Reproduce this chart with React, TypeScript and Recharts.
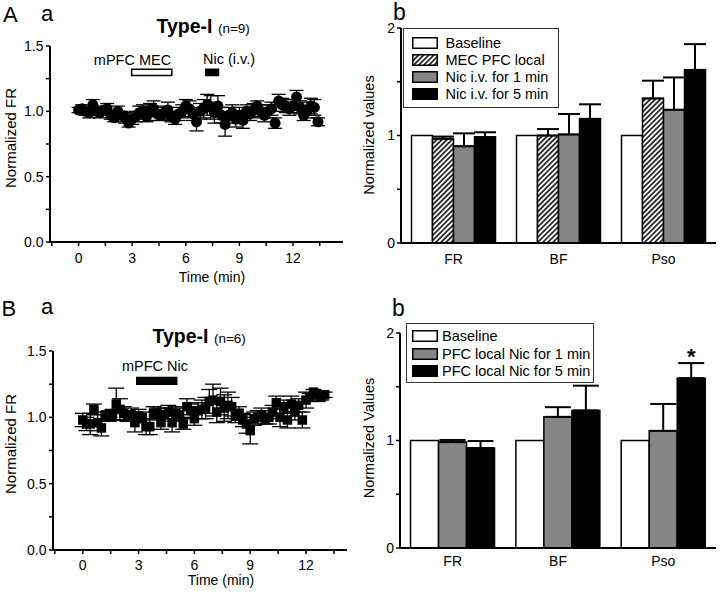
import React from 'react';
import {
  ScatterChart,
  Scatter,
  XAxis,
  YAxis,
  ErrorBar,
  ReferenceArea,
  BarChart,
  Bar,
  Legend,
  LabelList,
} from 'recharts';

const FONT = '"Liberation Sans", Arial, Helvetica, sans-serif';

// ---------- Panel A a : Type-I (n=9) ----------
const timeA = [0, 0.2, 0.4, 0.6, 0.8, 1.0, 1.2, 1.4, 1.6, 1.8, 2.0, 2.2, 2.4, 2.6, 2.8, 3.0, 3.2, 3.4, 3.6, 3.8, 4.0, 4.2, 4.4, 4.6, 4.8, 5.0, 5.2, 5.4, 5.6, 5.8, 6.0, 6.2, 6.4, 6.6, 6.8, 7.0, 7.2, 7.4, 7.6, 7.8, 8.0, 8.2, 8.4, 8.6, 8.8, 9.0, 9.2, 9.4, 9.6, 9.8, 10.0, 10.2, 10.4, 10.6, 10.8, 11.0, 11.2, 11.4, 11.6, 11.8, 12.0, 12.2, 12.4, 12.6, 12.8, 13.0, 13.2, 13.4];
const frA = [
  1.01, 1.02, 1.0, 0.99, 1.05, 1.0, 0.99, 1.01, 1.02, 0.97,
  0.95, 1.0, 0.97, 0.95, 0.91, 0.94, 0.96, 0.99, 1.0, 0.96,
  1.01, 1.02, 0.98, 0.97, 0.99, 1.01, 0.96, 0.94, 0.98, 1.0,
  1.04, 1.02, 0.98, 0.92, 1.0, 1.02, 1.05, 1.03, 0.99, 1.04,
  0.97, 0.9, 0.97, 0.99, 0.94, 0.97, 0.93, 1.0, 0.98, 1.01,
  1.04, 1.0, 0.97, 1.0, 1.02, 0.91, 1.08, 1.05, 1.04, 1.02,
  1.04, 1.11, 1.03, 0.97, 1.01, 1.04, 1.03, 0.92,
];
const errA = [
  0.02, 0.03, 0.03, 0.04, 0.04, 0.03, 0.04, 0.03, 0.04, 0.03,
  0.03, 0.04, 0.03, 0.04, 0.03, 0.04, 0.04, 0.05, 0.05, 0.04,
  0.05, 0.06, 0.05, 0.04, 0.05, 0.06, 0.04, 0.04, 0.05, 0.05,
  0.05, 0.06, 0.05, 0.07, 0.06, 0.07, 0.08, 0.09, 0.08, 0.08,
  0.06, 0.09, 0.06, 0.06, 0.06, 0.06, 0.06, 0.05, 0.05, 0.05,
  0.04, 0.05, 0.05, 0.05, 0.05, 0.04, 0.05, 0.05, 0.05, 0.05,
  0.05, 0.05, 0.05, 0.04, 0.06, 0.06, 0.06, 0.03,
];
const treatStartA = [2.97, 7.12];
const treatEndA = [5.22, 7.83];
const treatBandA = [1.275, 1.322];

// ---------- Panel B a : Type-I (n=6) ----------
const timeB = [0, 0.2, 0.4, 0.6, 0.8, 1.0, 1.2, 1.4, 1.6, 1.8, 2.0, 2.2, 2.4, 2.6, 2.8, 3.0, 3.2, 3.4, 3.6, 3.8, 4.0, 4.2, 4.4, 4.6, 4.8, 5.0, 5.2, 5.4, 5.6, 5.8, 6.0, 6.2, 6.4, 6.6, 6.8, 7.0, 7.2, 7.4, 7.6, 7.8, 8.0, 8.2, 8.4, 8.6, 8.8, 9.0, 9.2, 9.4, 9.6, 9.8, 10.0, 10.2, 10.4, 10.6, 10.8, 11.0, 11.2, 11.4, 11.6, 11.8, 12.0, 12.2, 12.4, 12.6, 12.8, 13.0];
const frB = [
  0.98, 0.95, 0.95, 1.06, 0.96, 0.92, 1.01, 1.01, 1.02, 1.1,
  1.06, 1.03, 1.01, 1.02, 0.96, 1.01, 1.0, 0.93, 0.93, 1.03,
  1.03, 0.96, 1.02, 1.04, 0.96, 1.03, 1.02, 0.95, 1.08, 1.05,
  0.99, 1.05, 1.06, 1.07, 1.12, 1.13, 1.04, 1.12, 1.07, 1.09,
  1.08, 1.01, 1.03, 0.98, 0.95, 0.9, 0.99, 1.0, 1.02, 0.99,
  1.0, 1.04, 1.11, 1.0, 1.08, 0.98, 1.1, 1.04, 1.09, 0.98,
  1.13, 1.15, 1.19, 1.17, 1.15, 1.17,
];
const errB = [
  0.05, 0.05, 0.08, 0.04, 0.06, 0.06, 0.03, 0.04, 0.04, 0.12,
  0.08, 0.05, 0.04, 0.05, 0.07, 0.05, 0.04, 0.06, 0.06, 0.05,
  0.04, 0.05, 0.05, 0.05, 0.07, 0.05, 0.05, 0.04, 0.06, 0.05,
  0.05, 0.06, 0.07, 0.08, 0.09, 0.12, 0.08, 0.1, 0.1, 0.1,
  0.07, 0.05, 0.05, 0.05, 0.07, 0.1, 0.05, 0.05, 0.05, 0.04,
  0.05, 0.05, 0.05, 0.07, 0.05, 0.06, 0.06, 0.06, 0.05, 0.06,
  0.06, 0.03, 0.02, 0.02, 0.02, 0.02,
];
const treatStartB = [2.9];
const treatEndB = [5.05];
const treatBandB = [1.25, 1.3];

// ---------- Axis ticks ----------
const timeTicks = [-1.5, 0, 1.5, 3, 4.5, 6, 7.5, 9, 10.5, 12, 13.5];
const frTicks = [0, 0.25, 0.5, 0.75, 1, 1.25, 1.5];
const valTicks = [0, 0.5, 1, 1.5, 2];
const sepTicks = [1, 2];

// ---------- Panel A b ----------
const catsA = ['FR', 'BF', 'Pso'];
const baselineA = [1, 1, 1];
const mecA = [0.97, 1.0, 1.345];
const mecErrA = [0.02, 0.06, 0.165];
const nic1A = [0.9, 1.01, 1.24];
const nic1ErrA = [0.12, 0.19, 0.3];
const nic5A = [0.985, 1.155, 1.61];
const nic5ErrA = [0.045, 0.135, 0.24];

// ---------- Panel B b ----------
const catsB = ['FR', 'BF', 'Pso'];
const baselineB = [1, 1, 1];
const loc1B = [0.985, 1.22, 1.09];
const loc1ErrB = [0.02, 0.09, 0.25];
const loc5B = [0.93, 1.28, 1.58];
const loc5ErrB = [0.065, 0.23, 0.14];
const sigB = ['', '', '*'];

const AXIS = { stroke: '#000', strokeWidth: 2 };
const TICK = { stroke: '#000', strokeWidth: 1.5 };
const TICKTEXT = { fill: '#000', fontSize: 14, fontFamily: FONT };

const fmtTime = (v: number) => (v % 3 === 0 ? String(v) : '');
const fmtFr = (v: number) => (Number.isInteger(v * 2) ? v.toFixed(1) : '');
const fmtVal = (v: number) => (Number.isInteger(v) ? String(v) : '');

const Txt = ({ x, base, size = 14.5, weight = 'normal', anchor = 'start', children }: any) => (
  <div
    style={{
      position: 'absolute',
      left: x,
      top: base - 0.8465 * size,
      fontSize: size,
      fontWeight: weight,
      lineHeight: 1,
      whiteSpace: 'nowrap',
      transform: anchor === 'middle' ? 'translateX(-50%)' : undefined,
      fontFamily: FONT,
    }}
  >
    {children}
  </div>
);

const VTxt = ({ x, y, size = 14.5, children }: any) => (
  <div
    style={{
      position: 'absolute',
      left: x,
      top: y,
      fontSize: size,
      lineHeight: 1,
      whiteSpace: 'nowrap',
      transform: 'translate(-50%, -50%) rotate(-90deg)',
      fontFamily: FONT,
    }}
  >
    {children}
  </div>
);

const circleShape = (p: any) => <circle cx={p.cx} cy={p.cy} r={5.5} fill="#000" />;
const squareShape = (p: any) => <rect x={p.cx - 4.75} y={p.cy - 4.75} width={9.5} height={9.5} fill="#000" />;

const makeLegend = (o: any) => (props: any) => {
  const payload = props.payload || [];
  return (
    <div
      style={{
        border: '1px solid #333',
        background: '#fff',
        padding: `${o.pt}px ${o.pr}px ${o.pb}px ${o.pl}px`,
        fontFamily: FONT,
        fontSize: 14.5,
        color: '#000',
        whiteSpace: 'nowrap',
      }}
    >
      {payload.map((p: any, i: number) => (
        <div key={i} style={{ display: 'flex', alignItems: 'center', height: o.row }}>
          <svg width={26} height={12} style={{ display: 'block' }}>
            <rect x={0.75} y={0.75} width={24.5} height={10.5} fill={p.color} stroke="#000" strokeWidth={1.5} />
          </svg>
          <span style={{ marginLeft: o.gap }}>{p.value}</span>
        </div>
      ))}
    </div>
  );
};

const legendA = makeLegend({ pt: 5.5, pb: 4.5, pl: 7.5, pr: 10, row: 17, gap: 8 });
const legendB = makeLegend({ pt: 4, pb: 2, pl: 5, pr: 3, row: 17.5, gap: 4 });

export default function App() {
  const dataA = timeA.map((t, i) => ({ t, v: frA[i], e: errA[i] }));
  const dataB = timeB.map((t, i) => ({ t, v: frB[i], e: errB[i] }));
  const treatA = treatStartA.map((s, i) => ({ s, e: treatEndA[i] }));
  const treatB = treatStartB.map((s, i) => ({ s, e: treatEndB[i] }));

  const barA = catsA.map((c, i) => ({
    cat: c,
    base: baselineA[i],
    mec: mecA[i],
    mecErr: [0, mecErrA[i]],
    nic1: nic1A[i],
    nic1Err: [0, nic1ErrA[i]],
    nic5: nic5A[i],
    nic5Err: [0, nic5ErrA[i]],
  }));
  const barB = catsB.map((c, i) => ({
    cat: c,
    base: baselineB[i],
    loc1: loc1B[i],
    loc1Err: [0, loc1ErrB[i]],
    loc5: loc5B[i],
    loc5Err: [0, loc5ErrB[i]],
    sig: sigB[i],
  }));

  return (
    <div
      style={{
        position: 'absolute',
        left: 0,
        top: 0,
        width: 720,
        height: 592,
        background: '#fff',
        color: '#000',
        overflow: 'hidden',
        fontFamily: FONT,
      }}
    >
      <svg width={0} height={0} style={{ position: 'absolute' }}>
        <defs>
          <pattern id="hatch" patternUnits="userSpaceOnUse" width={3.6} height={3.6} patternTransform="rotate(45)">
            <rect width={3.6} height={3.6} fill="#fff" />
            <line x1={1.8} y1={0} x2={1.8} y2={3.6} stroke="#000" strokeWidth={1.5} />
          </pattern>
        </defs>
      </svg>

      {/* Panel A a */}
      <div style={{ position: 'absolute', left: 0, top: 0 }}>
        <ScatterChart width={360} height={290} margin={{ top: 46, right: 17, bottom: 0, left: 0 }}>
          <XAxis
            type="number"
            dataKey="t"
            domain={[-1.6, 14.8]}
            ticks={timeTicks}
            tickFormatter={fmtTime}
            interval={0}
            allowDataOverflow
            height={48}
            axisLine={AXIS}
            tickLine={TICK}
            tickSize={4}
            tickMargin={7.5}
            tick={TICKTEXT}
          />
          <YAxis
            type="number"
            dataKey="v"
            domain={[0, 1.5]}
            ticks={frTicks}
            tickFormatter={fmtFr}
            interval={0}
            allowDataOverflow
            width={50}
            axisLine={AXIS}
            tickLine={TICK}
            tickSize={4}
            tickMargin={2.5}
            tick={TICKTEXT}
          />
          {treatA.map((d, i) => (
            <ReferenceArea
              key={i}
              x1={d.s}
              x2={d.e}
              y1={treatBandA[0]}
              y2={treatBandA[1]}
              fill={i === 0 ? '#fff' : '#000'}
              fillOpacity={1}
              stroke="#000"
              strokeWidth={1.5}
            />
          ))}
          <Scatter data={dataA} dataKey="v" shape={circleShape} isAnimationActive={false}>
            <ErrorBar dataKey="e" direction="y" width={7} stroke="#000" strokeWidth={1.3} />
          </Scatter>
        </ScatterChart>
      </div>

      {/* Panel B a */}
      <div style={{ position: 'absolute', left: 0, top: 290 }}>
        <ScatterChart width={360} height={302} margin={{ top: 61, right: 13, bottom: 0, left: 0 }}>
          <XAxis
            type="number"
            dataKey="t"
            domain={[-1.6, 14.2]}
            ticks={timeTicks}
            tickFormatter={fmtTime}
            interval={0}
            allowDataOverflow
            height={42}
            axisLine={AXIS}
            tickLine={TICK}
            tickSize={4}
            tickMargin={6.5}
            tick={TICKTEXT}
          />
          <YAxis
            type="number"
            dataKey="v"
            domain={[0, 1.5]}
            ticks={frTicks}
            tickFormatter={fmtFr}
            interval={0}
            allowDataOverflow
            width={53}
            axisLine={AXIS}
            tickLine={TICK}
            tickSize={4}
            tickMargin={2.5}
            tick={TICKTEXT}
          />
          {treatB.map((d, i) => (
            <ReferenceArea
              key={i}
              x1={d.s}
              x2={d.e}
              y1={treatBandB[0]}
              y2={treatBandB[1]}
              fill="#000"
              fillOpacity={1}
              stroke="#000"
              strokeWidth={1.5}
            />
          ))}
          <Scatter data={dataB} dataKey="v" shape={squareShape} isAnimationActive={false}>
            <ErrorBar dataKey="e" direction="y" width={8} stroke="#000" strokeWidth={1.3} />
          </Scatter>
        </ScatterChart>
      </div>

      {/* Panel A b */}
      <div style={{ position: 'absolute', left: 360, top: 0 }}>
        <BarChart
          width={360}
          height={290}
          data={barA}
          margin={{ top: 28, right: 4, bottom: 0, left: 0 }}
          barGap={0}
          barCategoryGap="10%"
        >
          <XAxis
            xAxisId="sep"
            type="number"
            domain={[0, 3]}
            ticks={sepTicks}
            tick={false}
            axisLine={false}
            tickLine={TICK}
            tickSize={5}
            height={0}
          />
          <XAxis
            dataKey="cat"
            tickLine={false}
            axisLine={AXIS}
            tick={TICKTEXT}
            tickSize={4}
            tickMargin={7}
            height={47}
            interval={0}
          />
          <YAxis
            domain={[0, 2]}
            ticks={valTicks}
            tickFormatter={fmtVal}
            interval={0}
            width={41}
            axisLine={AXIS}
            tickLine={TICK}
            tickSize={4}
            tickMargin={2}
            tick={TICKTEXT}
          />
          <Legend
            layout="vertical"
            align="center"
            verticalAlign="middle"
            wrapperStyle={{ left: 43, top: 28, width: 'auto', height: 'auto' }}
            content={legendA}
          />
          <Bar dataKey="base" name="Baseline" fill="#fff" stroke="#000" strokeWidth={1.5} isAnimationActive={false} />
          <Bar dataKey="mec" name="MEC PFC local" fill="url(#hatch)" stroke="#000" strokeWidth={1.5} isAnimationActive={false}>
            <ErrorBar dataKey="mecErr" direction="y" width={11} stroke="#000" strokeWidth={2} />
          </Bar>
          <Bar dataKey="nic1" name="Nic i.v. for 1 min" fill="#858585" stroke="#000" strokeWidth={1.5} isAnimationActive={false}>
            <ErrorBar dataKey="nic1Err" direction="y" width={11} stroke="#000" strokeWidth={2} />
          </Bar>
          <Bar dataKey="nic5" name="Nic i.v. for 5 min" fill="#000" stroke="#000" strokeWidth={1.5} isAnimationActive={false}>
            <ErrorBar dataKey="nic5Err" direction="y" width={11} stroke="#000" strokeWidth={2} />
          </Bar>
        </BarChart>
      </div>

      {/* Panel B b */}
      <div style={{ position: 'absolute', left: 360, top: 290 }}>
        <BarChart
          width={360}
          height={302}
          data={barB}
          margin={{ top: 43, right: 4, bottom: 0, left: 0 }}
          barGap={0}
          barCategoryGap="10%"
        >
          <XAxis
            xAxisId="sep"
            type="number"
            domain={[0, 3]}
            ticks={sepTicks}
            tick={false}
            axisLine={false}
            tickLine={TICK}
            tickSize={5}
            height={0}
          />
          <XAxis
            dataKey="cat"
            tickLine={false}
            axisLine={AXIS}
            tick={TICKTEXT}
            tickSize={4}
            tickMargin={4}
            height={44}
            interval={0}
          />
          <YAxis
            domain={[0, 2]}
            ticks={valTicks}
            tickFormatter={fmtVal}
            interval={0}
            width={40}
            axisLine={AXIS}
            tickLine={TICK}
            tickSize={4}
            tickMargin={2}
            tick={TICKTEXT}
          />
          <Legend
            layout="vertical"
            align="center"
            verticalAlign="middle"
            wrapperStyle={{ left: 46, top: 32.7, width: 'auto', height: 'auto' }}
            content={legendB}
          />
          <Bar dataKey="base" name="Baseline" fill="#fff" stroke="#000" strokeWidth={1.5} isAnimationActive={false} />
          <Bar dataKey="loc1" name="PFC local Nic for 1 min" fill="#858585" stroke="#000" strokeWidth={1.5} isAnimationActive={false}>
            <ErrorBar dataKey="loc1Err" direction="y" width={13} stroke="#000" strokeWidth={2} />
          </Bar>
          <Bar dataKey="loc5" name="PFC local Nic for 5 min" fill="#000" stroke="#000" strokeWidth={1.5} isAnimationActive={false}>
            <ErrorBar dataKey="loc5Err" direction="y" width={13} stroke="#000" strokeWidth={2} />
            <LabelList dataKey="sig" position="top" offset={14} fill="#000" fontSize={22} fontWeight="bold" fontFamily={FONT} />
          </Bar>
        </BarChart>
      </div>

      {/* Text overlays */}
      <Txt x={3} base={23} size={22}>A</Txt>
      <Txt x={41} base={21.7} size={22}>a</Txt>
      <Txt x={156.5} base={33.3} size={19.5} weight="bold">
        Type-I <span style={{ fontWeight: 'normal', fontSize: 13.5 }}>(n=9)</span>
      </Txt>
      <Txt x={132.5} base={65} anchor="middle">mPFC MEC</Txt>
      <Txt x={229} base={64.5} anchor="middle">Nic (i.v.)</Txt>
      <Txt x={212} base={281.5} size={14} anchor="middle">Time (min)</Txt>
      <VTxt x={9.5} y={137.5} size={15}>Normalized FR</VTxt>

      <Txt x={393} base={20} size={23}>b</Txt>
      <VTxt x={369} y={135} size={14.5}>Normalized values</VTxt>

      <Txt x={1.5} base={316.7} size={22}>B</Txt>
      <Txt x={41} base={315} size={22}>a</Txt>
      <Txt x={152.5} base={344} size={19.5} weight="bold">
        Type-I <span style={{ fontWeight: 'normal', fontSize: 13.5 }}>(n=6)</span>
      </Txt>
      <Txt x={155} base={371.7} anchor="middle">mPFC Nic</Txt>
      <Txt x={221} base={585} size={14} anchor="middle">Time (min)</Txt>
      <VTxt x={9.5} y={444} size={15}>Normalized FR</VTxt>

      <Txt x={392} base={316.7} size={23}>b</Txt>
      <VTxt x={369} y={438} size={14.5}>Normalized Values</VTxt>
    </div>
  );
}
